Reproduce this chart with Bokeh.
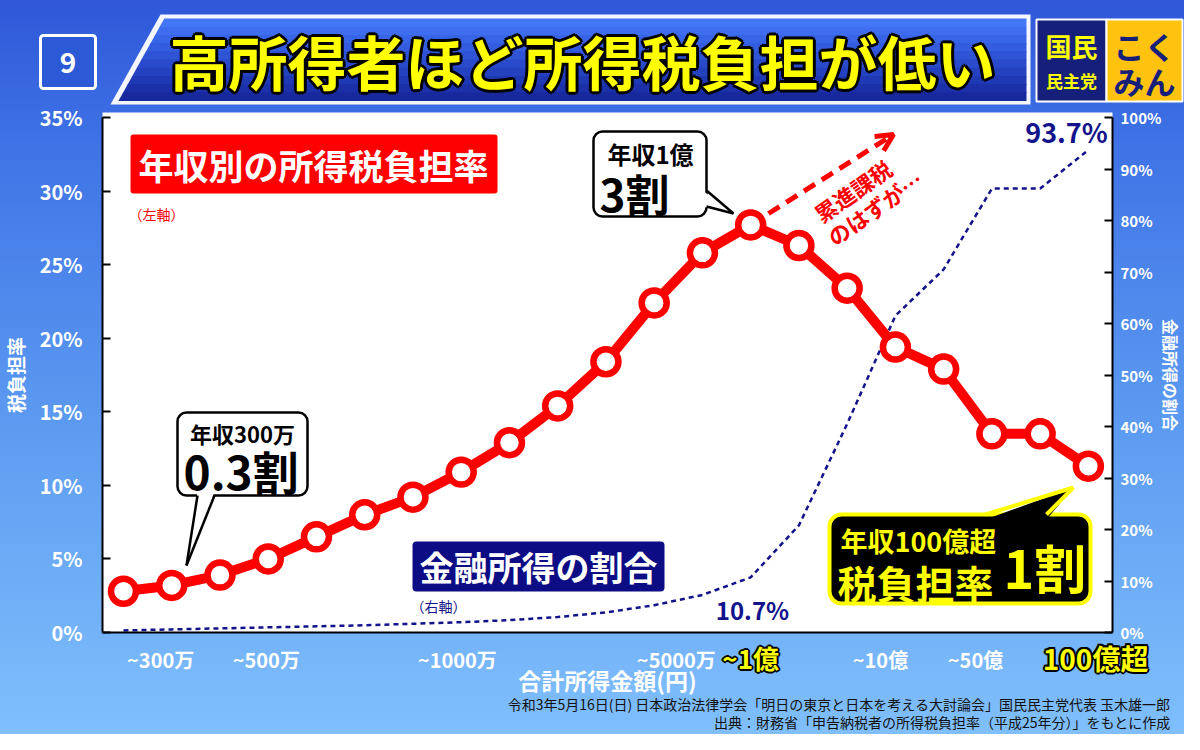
from bokeh.plotting import figure
from bokeh.models import (Range1d, LinearAxis, FixedTicker, CustomJSTickFormatter,
                          PrintfTickFormatter, BoxAnnotation, Label, Arrow, OpenHead)
from bokeh.embed import file_html
from bokeh.resources import INLINE

# ---------------- data ----------------
categories = ["~200万", "~300万", "~400万", "~500万", "~600万", "~700万", "~800万",
              "~1000万", "~1200万", "~1500万", "~2000万", "~3000万", "~5000万", "~1億",
              "~2億", "~5億", "~10億", "~20億", "~50億", "~100億", "100億超"]
tax_rate = [2.8, 3.2, 3.9, 5.0, 6.5, 8.0, 9.2, 10.9, 12.9, 15.4, 18.4, 22.4, 25.8, 27.7,
            26.3, 23.4, 19.4, 17.9, 13.5, 13.5, 11.3]
financial_share = [0.4, 0.6, 0.8, 1.0, 1.2, 1.4, 1.7, 2.0, 2.4, 3.0, 3.9, 5.3, 7.3, 10.7,
                   20.8, 40.5, 61.5, 70.5, 86.2, 86.2, 93.7]
left_ticks = [0, 5, 10, 15, 20, 25, 30, 35]
right_ticks = [0, 10, 20, 30, 40, 50, 60, 70, 80, 90, 100]
x_tick_labels = ["~300万", "~500万", "~1000万", "~5000万", "~10億", "~50億"]
x_highlight_labels = ["~1億", "100億超"]

# ---------------- layout / style ----------------
FONT = "Noto Sans CJK JP"
NAVY = "#13138c"
RED = "#ff0000"
YEL = "#ffff00"
W, H = 1184, 734                      # canvas
FL, FR, FT, FB = 102, 1112, 117, 632  # chart area in canvas pixels
IX0, IX1 = 0.565, 21.5                # category-index span of chart area
TAX_MAX, FIN_MAX = 35, 100
label_shift = {"~300万": -0.23, "~500万": -0.04, "~1000万": -0.08, "~5000万": -0.54,
               "~10億": -0.31, "~50億": -0.34, "~1億": 0.0, "100億超": 0.15}

ix_per_px = (IX1 - IX0) / (FR - FL)
x_range = Range1d(IX0 - FL * ix_per_px, IX1 + (W - FR) * ix_per_px)
tax_per_px = TAX_MAX / (FB - FT)
y_range = Range1d(-(H - FB) * tax_per_px, TAX_MAX + FT * tax_per_px)
fin_per_px = FIN_MAX / (FB - FT)
fin_range = Range1d(-(H - FB) * fin_per_px, FIN_MAX + FT * fin_per_px)

xs = list(range(1, len(categories) + 1))

p = figure(width=W, height=H, x_range=x_range, y_range=y_range,
           output_backend="svg", toolbar_location=None, min_border=0)
p.extra_y_ranges = {"fin": fin_range, "px": Range1d(H, 0)}
p.extra_x_ranges = {"px": Range1d(0, W)}
p.background_fill_color = None
p.border_fill_color = None
p.outline_line_color = None
p.grid.visible = False
p.styles = {"background": "linear-gradient(180deg, #2f57d8 0%, #3f73e6 20%, #5a98f0 55%, #80bffc 100%)"}

PX = dict(x_range_name="px", y_range_name="px")


def box(l, t, r, b, fill, line=None, lw=0, radius=0, level="annotation"):
    p.add_layout(BoxAnnotation(left=l, right=r, top=t, bottom=b, fill_color=fill, fill_alpha=1,
                               line_color=line, line_alpha=1, line_width=lw,
                               border_radius=radius, level=level, **PX))


def patch(xv, yv, fill, level="glyph"):
    p.patch(x=xv, y=yv, fill_color=fill, fill_alpha=1, line_color=None, level=level, **PX)


def seg(x0, y0, x1, y1, color, lw, level="annotation"):
    p.add_layout(Arrow(x_start=x0, y_start=y0, x_end=x1, y_end=y1, end=None,
                       line_color=color, line_width=lw, level=level, **PX))


def txt(s, x, y, size, color, align="center", style="bold", angle=0, base="middle",
        xname="px", dx=0, dy=0):
    p.add_layout(Label(x=x, y=y, text=s, text_font=FONT, text_font_size=f"{size}px",
                       text_font_style=style, text_color=color, text_align=align,
                       text_baseline=base, angle=angle, x_range_name=xname,
                       y_range_name="px", x_offset=dx, y_offset=dy))


def outlined(s, x, y, size, color, edge, r, xname="px"):
    k = r * 0.7071
    for dx, dy in [(r, 0), (-r, 0), (0, r), (0, -r), (k, k), (k, -k), (-k, k), (-k, -k)]:
        txt(s, x, y, size, edge, xname=xname, dx=dx, dy=dy)
    txt(s, x, y, size, color, xname=xname)


def tail(e0, e1, tip, inset, fill, edge, lw):
    (x0, y0), (x1, y1) = e0, e1
    dx, dy = inset
    patch([x0 + dx, x1 + dx, tip[0]], [y0 + dy, y1 + dy, tip[1]], fill, level="overlay")
    seg(x0, y0, tip[0], tip[1], edge, lw, level="overlay")
    seg(x1, y1, tip[0], tip[1], edge, lw, level="overlay")


# white chart panel (behind data)
box(FL, 112, FR, FB, "white", level="underlay")


# ---------------- axes (fixed at the chart-area edges) ----------------
def style_axis(ax, size, standoff):
    ax.axis_line_color = "black"
    ax.axis_line_width = 2
    ax.major_tick_in = 8
    ax.major_tick_out = 0
    ax.major_tick_line_color = "black"
    ax.major_tick_line_width = 2
    ax.minor_tick_line_color = None
    ax.major_label_text_color = "white"
    ax.major_label_text_font = FONT
    ax.major_label_text_font_style = "bold"
    ax.major_label_text_font_size = f"{size}px"
    ax.major_label_standoff = standoff
    ax.axis_label_text_color = "white"
    ax.axis_label_text_font = FONT
    ax.axis_label_text_font_style = "bold"


ya = p.yaxis[0]
ya.ticker = FixedTicker(ticks=left_ticks)
ya.formatter = PrintfTickFormatter(format="%d%%")
ya.axis_label = "税負担率"
ya.fixed_location = IX0
ya.bounds = (0, TAX_MAX)
style_axis(ya, 20, 20)
ya.axis_label_text_font_size = "19px"
ya.axis_label_standoff = 8

yr = LinearAxis(y_range_name="fin", ticker=FixedTicker(ticks=right_ticks),
                formatter=PrintfTickFormatter(format="%d%%"), axis_label="金融所得の割合",
                fixed_location=IX1, bounds=(0, FIN_MAX))
style_axis(yr, 15, 8)
yr.axis_label_text_font_size = "16px"
yr.axis_label_standoff = -5
p.add_layout(yr, "right")

tick_pos = [categories.index(t) + 1 + label_shift[t] for t in x_tick_labels]
xa = p.xaxis[0]
xa.ticker = FixedTicker(ticks=tick_pos)
xa.formatter = CustomJSTickFormatter(args=dict(pos=tick_pos, lab=x_tick_labels), code="""
const i = pos.findIndex(v => Math.abs(v - tick) < 1e-6);
return i >= 0 ? lab[i] : "";
""")
xa.fixed_location = 0
xa.bounds = (IX0, IX1)
style_axis(xa, 20, 12)
xa.major_tick_line_color = None
xa.axis_label = "合計所得金額(円)"
xa.axis_label_text_font_size = "23px"
xa.axis_label_standoff = -14

# ---------------- data glyphs ----------------
p.line(xs, financial_share, y_range_name="fin", line_color=NAVY, line_width=2.5, line_dash="5 4")
p.line(xs, tax_rate, line_color=RED, line_width=10)
p.scatter(xs, tax_rate, size=25, fill_color="white", line_color=RED, line_width=6.5)

# ---------------- header ----------------
box(40, 35, 95, 88, "#2c5ad6", "white", 3, 3)
txt("9", 67.5, 62, 28, "white")

top, bot = 14, 104


def xl(y):
    return 160 - (y - top) * 50 / 90


patch([xl(top), 1030, 1030, xl(bot)], [top, top, bot, bot], "#f4f6ff")
bands = ["#4477f5", "#3e6eef", "#3865e7", "#335cde", "#2e53d4", "#294aca", "#2441bf", "#1f38b4",
         "#1b30a9", "#18299e"]
t0, t1 = 18, 100
n = len(bands)
for i, c in enumerate(bands):
    ya_ = t0 + (t1 - t0) * i / n
    yb_ = t0 + (t1 - t0) * (i + 1) / n + 0.6
    patch([xl(ya_) + 6, 1026, 1026, xl(yb_) + 6], [ya_, ya_, yb_, yb_], c)
outlined("高所得者ほど所得税負担が低い", 582, 60, 59, YEL, "black", 3)

# logo
box(1036, 19, 1106, 101, "#16207a", "white", 2)
box(1106, 19, 1182, 101, "#ffc20e", "white", 2)
txt("国民", 1071, 45, 26, YEL)
txt("民主党", 1071, 80, 17, YEL)
txt("こく", 1144, 45, 31, "#16207a")
txt("みん", 1144, 80, 31, "#16207a")

# ---------------- annotations inside the chart ----------------
box(130, 134, 497, 193, RED, None, 0, 3)
txt("年収別の所得税負担率", 313, 164, 35, "white")
txt("（左軸）", 128, 213, 14, RED, align="left", style="normal")

# 1億 callout
box(593, 131, 706, 216, "white", "black", 2.5, 9)
tail((706, 190), (706, 206), (733, 213), (-4, 0), "white", "black", 2.5)
txt("年収1億", 650, 153, 24, "black")
txt("3割", 599, 192, 44, "black", align="left")

# 300万 callout
box(177, 412, 307, 495, "white", "black", 2.5, 9)
tail((197, 495), (214, 495), (186, 565), (0, -4), "white", "black", 2.5)
txt("年収300万", 242, 432, 22, "black")
txt("0.3割", 183, 469, 46, "black", align="left")

# progressive tax arrow
p.add_layout(Arrow(x_start=768, y_start=213, x_end=893, y_end=134, line_color=RED,
                   line_width=5, line_dash="13 8",
                   end=OpenHead(line_color=RED, line_width=5, size=17), **PX))
txt("累進課税", 852, 190, 22, RED, angle=0.61)
txt("のはずが…", 874, 207, 22, RED, angle=0.61)

# financial income label
box(412, 541, 664, 591, "#0c0c85", None, 0, 4)
txt("金融所得の割合", 538, 566, 34, "white")
txt("（右軸）", 410, 605, 14, NAVY, align="left", style="normal")
txt("10.7%", 752, 609, 24, NAVY)
txt("93.7%", 1066, 131, 27, NAVY)

# 100億超 callout
box(829, 514, 1090, 603, "black", YEL, 4, 12)
tail((985, 514), (1046, 514), (1073, 487), (0, 5), "black", YEL, 4)
txt("年収100億超", 840, 540, 27, YEL, align="left")
txt("税負担率", 837, 581, 39, YEL, align="left")
txt("1割", 1003, 566, 52, YEL, align="left")

# highlighted x labels (category positions on the data x scale)
for s in x_highlight_labels:
    xi = categories.index(s) + 1 + label_shift[s]
    outlined(s, xi, 657, 28 if s == "100億超" else 26, YEL, "black", 2, xname="default")

# footer
txt("令和3年5月16日(日) 日本政治法律学会「明日の東京と日本を考える大討論会」国民民主党代表 玉木雄一郎",
    1170, 703, 14, "#111111", align="right", style="normal")
txt("出典：財務省「申告納税者の所得税負担率（平成25年分）」をもとに作成",
    1170, 721, 14, "#111111", align="right", style="normal")

open("out.html", "w").write(file_html(p, INLINE))
